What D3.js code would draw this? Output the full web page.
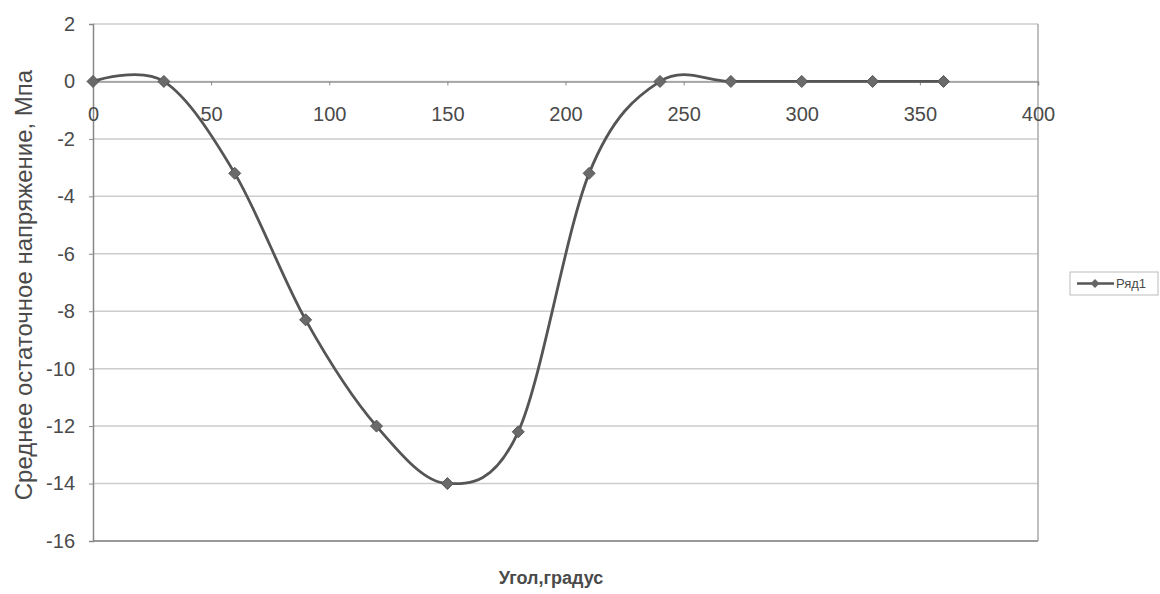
<!DOCTYPE html>
<html><head><meta charset="utf-8">
<script src="https://cdn.jsdelivr.net/npm/d3@7"></script>
<style>body{margin:0;background:#fff}svg{display:block}</style>
</head><body>
<script>
const angles = [0, 30, 60, 90, 120, 150, 180, 210, 240, 270, 300, 330, 360];
const stress = [0, 0, -3.2, -8.3, -12.0, -14.0, -12.2, -3.2, 0, 0, 0, 0, 0];
const xTicks = [0, 50, 100, 150, 200, 250, 300, 350, 400];
const yTicks = [2, 0, -2, -4, -6, -8, -10, -12, -14, -16];
const seriesName = "Ряд1";
const xTitle = "Угол,градус";
const yTitle = "Среднее остаточное напряжение, Мпа";

const W = 1160, H = 594;
const svg = d3.select("body").append("svg").attr("width", W).attr("height", H)
  .style("font-family", "'Liberation Sans', Arial, sans-serif");

const x = d3.scaleLinear().domain([0, 400]).range([93, 1038]);
const y = d3.scaleLinear().domain([-16, 2]).range([541, 24]);
const textCol = "#4a4a4a";

// gridlines
svg.append("g").selectAll("line").data(yTicks).join("line")
  .attr("x1", x(0)).attr("x2", x(400))
  .attr("y1", d => y(d)).attr("y2", d => y(d))
  .attr("stroke", "#cdcdcd").attr("stroke-width", 1.5);

// plot border (right, bottom)
svg.append("line").attr("x1", x(400)).attr("x2", x(400)).attr("y1", y(2)).attr("y2", y(-16))
  .attr("stroke", "#aaa").attr("stroke-width", 1.5);
svg.append("line").attr("x1", x(0)).attr("x2", x(400)).attr("y1", y(-16)).attr("y2", y(-16))
  .attr("stroke", "#999").attr("stroke-width", 2);

// y axis
const yAxis = svg.append("g").attr("transform", `translate(${x(0)},0)`)
  .call(d3.axisLeft(y).tickValues(yTicks).tickSize(4).tickPadding(14).tickFormat(d3.format("d")));
yAxis.select(".domain").attr("stroke", "#888").attr("stroke-width", 1.5);
yAxis.selectAll(".tick line").attr("stroke", "#888");
yAxis.selectAll("text").attr("fill", textCol).style("font-size", "20px")
  .text(d => d < 0 ? "-" + Math.abs(d) : d);

// x axis at y=0
const xAxis = svg.append("g").attr("transform", `translate(0,${y(0)})`)
  .call(d3.axisBottom(x).tickValues(xTicks).tickSize(4));
xAxis.select(".domain").attr("stroke", "#999").attr("stroke-width", 1.5);
xAxis.selectAll(".tick line").attr("stroke", "#888");
xAxis.selectAll("text").attr("fill", textCol).style("font-size", "20px")
  .attr("dy", null).attr("y", 40);

// series
const pts = angles.map((a, i) => [a, stress[i]]);
const line = d3.line().x(d => x(d[0])).y(d => y(d[1])).curve(d3.curveCardinal.tension(0));
svg.append("path").datum(pts).attr("d", line).attr("fill", "none")
  .attr("stroke", "#555").attr("stroke-width", 2.8);
const diamondPath = "M0,-6L6,0L0,6L-6,0Z";
svg.append("g").selectAll("path").data(pts).join("path")
  .attr("transform", d => `translate(${x(d[0])},${y(d[1])})`)
  .attr("d", diamondPath).attr("fill", "#6a6a6a").attr("stroke", "#555").attr("stroke-width", 1);

// titles
svg.append("text").attr("x", 551).attr("y", 584).attr("text-anchor", "middle")
  .attr("fill", textCol).style("font-size", "18px").style("font-weight", "bold").text(xTitle);
svg.append("text").attr("transform", `translate(32,285) rotate(-90)`).attr("text-anchor", "middle")
  .attr("fill", textCol).style("font-size", "24px").text(yTitle);

// legend
const lg = svg.append("g");
lg.append("rect").attr("x", 1070).attr("y", 272).attr("width", 88).attr("height", 23)
  .attr("fill", "#fff").attr("stroke", "#bbb").attr("stroke-width", 1);
lg.append("line").attr("x1", 1077).attr("x2", 1114).attr("y1", 283.5).attr("y2", 283.5)
  .attr("stroke", "#555").attr("stroke-width", 2.4);
lg.append("path").attr("transform", "translate(1095,283.5)")
  .attr("d", "M0,-4.5L4.5,0L0,4.5L-4.5,0Z").attr("fill", "#666");
lg.append("text").attr("x", 1116).attr("y", 288).attr("fill", textCol)
  .style("font-size", "13px").text(seriesName);
</script>
</body></html>
